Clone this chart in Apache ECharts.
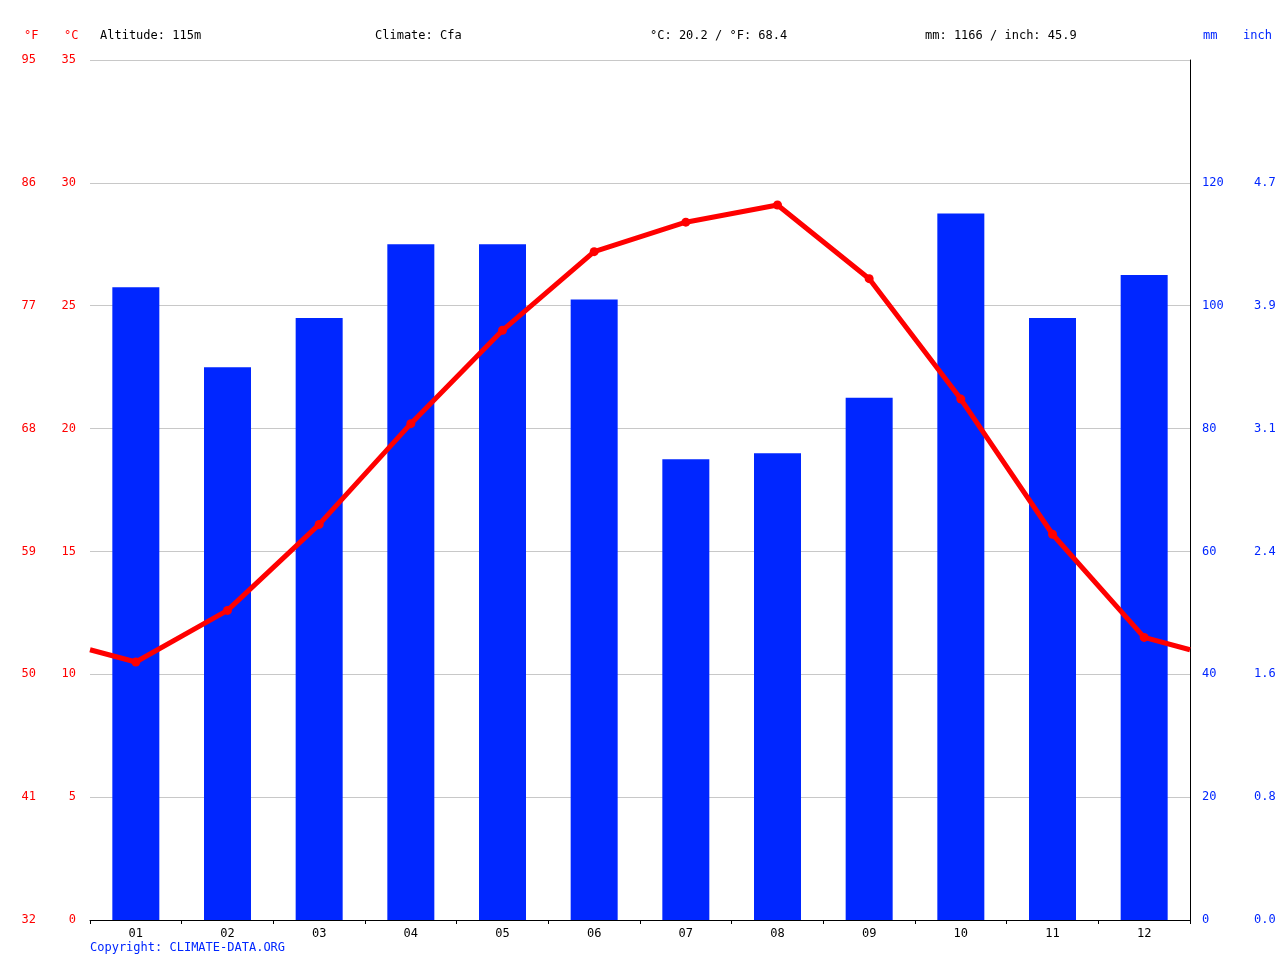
<!DOCTYPE html>
<html><head><meta charset="utf-8">
<script src="https://cdn.jsdelivr.net/npm/echarts@6/dist/echarts.min.js"></script>
<style>html,body{margin:0;padding:0;background:#fff}#c{width:1280px;height:960px}</style>
</head><body><div id="c"></div>
<script>
const months = ['01','02','03','04','05','06','07','08','09','10','11','12'];
const precipMm = [103,90,98,110,110,101,75,76,85,115,98,105];
const tempC = [10.5,12.6,16.1,20.2,24.0,27.2,28.4,29.1,26.1,21.2,15.7,11.5];
const edgeTempC = [11.0,11.0]; // line value at left and right plot edges
const mono = 'DejaVu Sans Mono';
const lineData = [[0,edgeTempC[0]]].concat(tempC.map((v,i)=>[i+0.5,v])).concat([[12,edgeTempC[1]]]);
const chart = echarts.init(document.getElementById('c'));
chart.setOption({
  animation:false,
  textStyle:{fontFamily:mono},
  grid:{left:90,right:90,top:60,bottom:40,containLabel:false},
  xAxis:[
    {type:'category',data:months,boundaryGap:true,
     axisLine:{lineStyle:{color:'#000'}},axisTick:{show:true,length:4,lineStyle:{color:'#000'}},
     axisLabel:{color:'#000',fontFamily:mono,fontSize:12,margin:8}},
    {type:'value',min:0,max:12,show:false}
  ],
  yAxis:[
    {type:'value',min:0,max:35,interval:5,position:'left',
     axisLabel:{color:'#ff0000',fontFamily:mono,fontSize:12,margin:14},
     axisLine:{show:false},axisTick:{show:false},
     splitLine:{lineStyle:{color:'#c8c8c8'}}},
    {type:'value',min:32,max:95,interval:9,position:'left',offset:40,
     axisLabel:{color:'#ff0000',fontFamily:mono,fontSize:12,margin:14},
     axisLine:{show:false},axisTick:{show:false},splitLine:{show:false}},
    {type:'value',min:0,max:140,interval:20,position:'right',
     axisLabel:{color:'#0026ff',fontFamily:mono,fontSize:12,margin:12,formatter:v=>v>=140?'':String(v)},
     axisLine:{show:true,lineStyle:{color:'#000'}},axisTick:{show:false},splitLine:{show:false}},
    {type:'value',min:0,max:140,interval:20,position:'right',offset:50,
     axisLabel:{color:'#0026ff',fontFamily:mono,fontSize:12,margin:14,formatter:v=>v>=140?'':(v/25.4).toFixed(1)},
     axisLine:{show:false},axisTick:{show:false},splitLine:{show:false}}
  ],
  series:[
    {type:'bar',data:precipMm,xAxisIndex:0,yAxisIndex:2,barWidth:47,itemStyle:{color:'#0026ff'}},
    {type:'line',data:lineData,xAxisIndex:1,yAxisIndex:0,
     lineStyle:{color:'#ff0000',width:5},itemStyle:{color:'#ff0000'},
     symbol:'circle',symbolSize:(v,p)=>(p.dataIndex===0||p.dataIndex===13)?0:9,z:5}
  ],
  graphic:[
    {type:'text',left:24,top:30,style:{text:'°F',fill:'#ff0000',font:'12px '+mono}},
    {type:'text',left:64,top:30,style:{text:'°C',fill:'#ff0000',font:'12px '+mono}},
    {type:'text',left:100,top:30,style:{text:'Altitude: 115m',fill:'#000',font:'12px '+mono}},
    {type:'text',left:375,top:30,style:{text:'Climate: Cfa',fill:'#000',font:'12px '+mono}},
    {type:'text',left:650,top:30,style:{text:'°C: 20.2 / °F: 68.4',fill:'#000',font:'12px '+mono}},
    {type:'text',left:925,top:30,style:{text:'mm: 1166 / inch: 45.9',fill:'#000',font:'12px '+mono}},
    {type:'text',left:1203,top:30,style:{text:'mm',fill:'#0026ff',font:'12px '+mono}},
    {type:'text',left:1243,top:30,style:{text:'inch',fill:'#0026ff',font:'12px '+mono}},
    {type:'text',left:90,top:942,style:{text:'Copyright: CLIMATE-DATA.ORG',fill:'#0026ff',font:'12px '+mono}}
  ]
});
</script></body></html>
